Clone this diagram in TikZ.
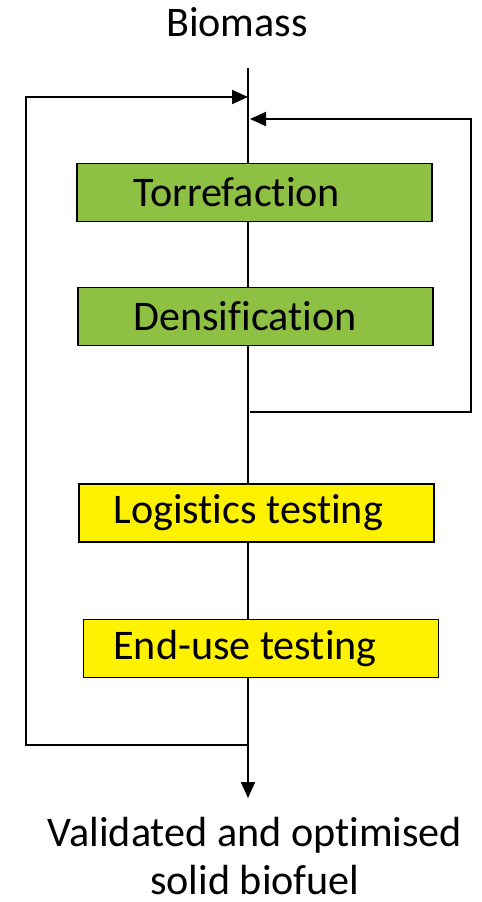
\documentclass[tikz,border=0pt]{standalone}
\usepackage{fontspec}
\setmainfont[Ligatures=NoCommon]{Carlito}
\usetikzlibrary{arrows.meta}
\definecolor{torrgreen}{RGB}{141,192,67}
\tikzset{every picture/.style={x=0.02cm, y=-0.02cm}}
\tikzset{
  flow/.style={line width=1.1pt, -{Triangle[length=0.32cm, width=0.28cm]}},
  stage/.style={draw, line width=0.8pt, minimum width=7.1cm, minimum height=1.16cm, inner sep=0pt},
  txt/.style={font=\fontsize{24}{28}\selectfont, inner sep=0pt}
}

\begin{document}
\begin{tikzpicture}
      \useasboundingbox (0,0) rectangle (481,902);
      \def\mx{248}

      % Main line
      \coordinate (top) at (\mx,68);
      \coordinate (bot) at (\mx,798);
      \draw[flow] (top) -- (bot);

      % Loops
      \coordinate (lb) at (\mx,745);
      \coordinate (lt) at (\mx,97);
      \coordinate (rb) at (250,412);
      \coordinate (rt) at (250,119);
      \draw[flow] (lb) -- (26,745) -- (26,97) -- (lt);
      \draw[flow] (rb) -- (471,412) -- (471,119) -- (rt);

      % Stages
      \node[stage, fill=torrgreen] (torr) at (254.5,192.5) {};
      \node[stage, fill=torrgreen] (dens) at (255.5,316.5) {};
      \node[stage, fill=yellow] (logi) at (256.5,513) {};
      \node[stage, fill=yellow] (endu) at (261,648.5) {};

      % Labels
      \node[txt, anchor=west] (torrt) at (133,192) {Torrefaction};
      \node[txt, anchor=west] (denst) at (133,316) {Densification};
      \node[txt, anchor=west] (logit) at (113,513) {Logistics testing};
      \node[txt, anchor=west] (endut) at (113,648) {End-use testing};

      \node[txt] (biom) at (237,22) {Biomass};
      \node[txt, anchor=base] (fuela) at (255,846) {Validated and optimised};
      \node[txt, anchor=base] (fuelb) at (255,894) {solid biofuel};
\end{tikzpicture}
\end{document}
